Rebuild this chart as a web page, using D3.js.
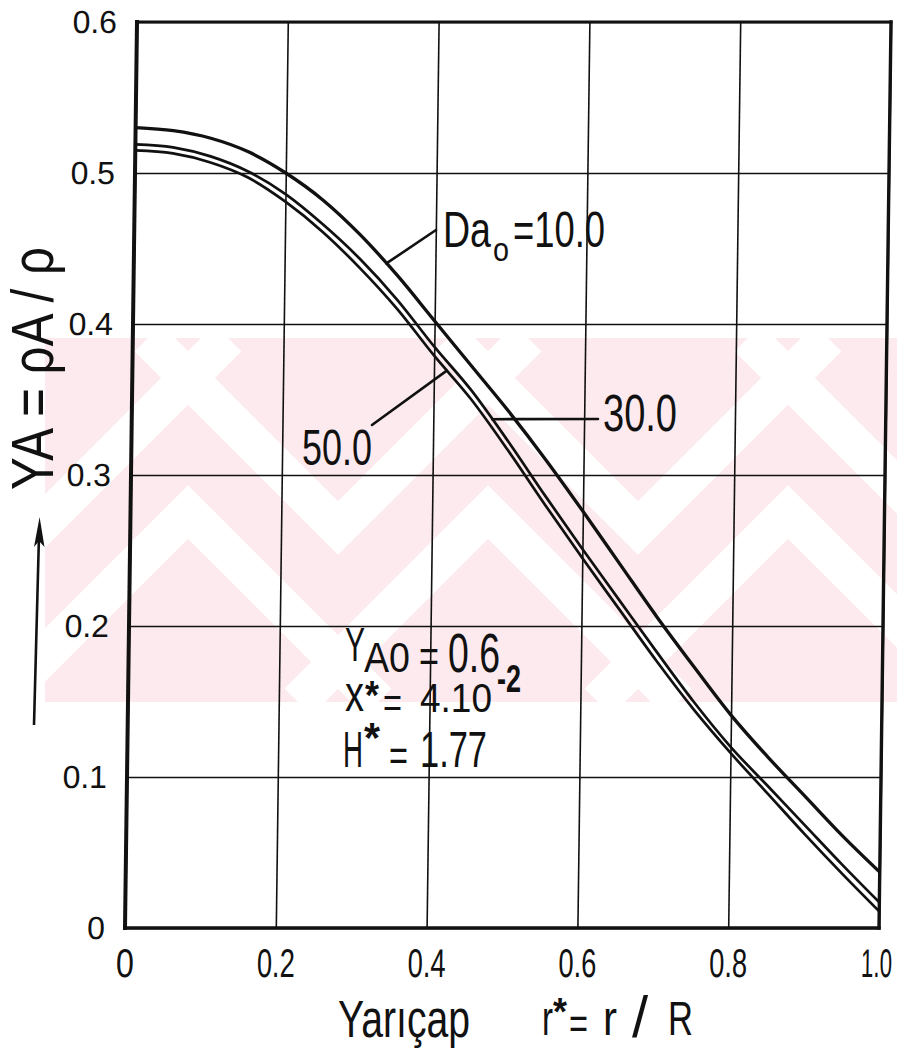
<!DOCTYPE html>
<html>
<head>
<meta charset="utf-8">
<script src="https://cdn.jsdelivr.net/npm/d3@7/dist/d3.min.js"></script>
<style>
  html, body { margin: 0; padding: 0; background: #fff; }
  svg { display: block; }
  text { font-family: "Liberation Sans Narrow", "Liberation Sans", Arial, sans-serif; fill: #111; }
</style>
</head>
<body>
<svg id="chart" width="897" height="1053" viewBox="0 0 897 1053"></svg>
<script>
// Dimensionless radius r* = r / R
const radius = [0.00, 0.05, 0.10, 0.15, 0.20, 0.25, 0.30, 0.35, 0.40, 0.45, 0.50,
                0.55, 0.60, 0.65, 0.70, 0.75, 0.80, 0.85, 0.90, 0.95, 1.00];

// Mass fraction Y_A = rho_A / rho for three Damköhler numbers Da_o
const yDa10 = [0.530, 0.528, 0.523, 0.514, 0.500, 0.482, 0.459, 0.432, 0.402, 0.372, 0.342,
               0.310, 0.276, 0.241, 0.206, 0.173, 0.141, 0.113, 0.087, 0.061, 0.037];
const yDa30 = [0.519, 0.517, 0.511, 0.501, 0.486, 0.466, 0.443, 0.416, 0.385, 0.356, 0.322,
               0.286, 0.251, 0.217, 0.183, 0.150, 0.120, 0.094, 0.068, 0.042, 0.017];
const yDa50 = [0.515, 0.513, 0.507, 0.497, 0.481, 0.461, 0.437, 0.410, 0.379, 0.350, 0.316,
               0.280, 0.245, 0.211, 0.177, 0.145, 0.116, 0.089, 0.062, 0.036, 0.011];
const seriesLabels = ["10.0", "30.0", "50.0"];

const xTicks = [0, 0.2, 0.4, 0.6, 0.8, 1.0];
const xTickLabels = ["0", "0.2", "0.4", "0.6", "0.8", "1.0"];
const yTicks = [0, 0.1, 0.2, 0.3, 0.4, 0.5, 0.6];
const yTickLabels = ["0", "0.1", "0.2", "0.3", "0.4", "0.5", "0.6"];

// ---- layout ----
const W = 754, H = 906, ox = 137, oy = 22;
const slant = -12 / 906;                           // the vertical rules lean slightly
const slantDeg = Math.atan(slant) * 180 / Math.PI;

const x = d3.scaleLinear().domain([0, 1]).range([0, W]);
const y = d3.scaleLinear().domain([0, 0.6]).range([H, 0]);
const toPx = (r, v) => [ox + x(r) + slant * y(v), oy + y(v)];

const valueAt = (vals, r) => {
  const i = Math.min(d3.bisectRight(radius, r), radius.length - 1);
  const r0 = radius[i - 1], r1 = radius[i];
  return vals[i - 1] + (vals[i] - vals[i - 1]) * (r - r0) / (r1 - r0);
};

const svg = d3.select("#chart");
svg.append("rect").attr("width", 897).attr("height", 1053).attr("fill", "#fff");

// ---- faint background emblem ----
const defs = svg.append("defs");
defs.append("clipPath").attr("id", "emblem-clip")
  .append("rect").attr("x", 45).attr("y", 338).attr("width", 852).attr("height", 364);
const emblem = svg.append("g").attr("clip-path", "url(#emblem-clip)");
emblem.append("rect").attr("x", 45).attr("y", 338).attr("width", 852).attr("height", 364)
  .attr("fill", "#fdeaee");
[38, 338, 638, 938].forEach(c => emblem.append("path")
  .attr("d", `M${c - 190},338L${c},528L${c + 190},338`)
  .attr("fill", "none").attr("stroke", "#fff").attr("stroke-width", 38));
[188, 488, 788].forEach(c => emblem.append("path")
  .attr("d", `M${c - 190},702L${c},512L${c + 190},702`)
  .attr("fill", "none").attr("stroke", "#fff").attr("stroke-width", 38));

// ---- plot frame, grid, axes ----
const plot = svg.append("g").attr("transform", `translate(${ox},${oy}) skewX(${slantDeg})`);

const gx = plot.append("g").attr("transform", `translate(0,${H})`)
  .call(d3.axisBottom(x).tickValues(xTicks).tickFormat((d, i) => xTickLabels[i])
        .tickSize(-H).tickPadding(21));
gx.select(".domain").remove();
gx.selectAll(".tick line").attr("stroke", "#111").attr("stroke-width", 1.6);
const last = xTicks.length - 1;
gx.selectAll(".tick text").style("font-size", "40px")
  .attr("textLength", (d, i) => i === 0 ? 18 : (i === last ? 31 : 38))
  .attr("lengthAdjust", "spacingAndGlyphs")
  .attr("text-anchor", (d, i) => i === last ? "end" : "middle")
  .attr("x", (d, i) => i === last ? 13 : 0);

const gy = plot.append("g")
  .call(d3.axisLeft(y).tickValues(yTicks).tickFormat((d, i) => yTickLabels[i])
        .tickSize(-W).tickPadding(20));
gy.select(".domain").remove();
gy.selectAll(".tick line").attr("stroke", "#111").attr("stroke-width", 1.6);
gy.selectAll(".tick text").style("font-size", "32px")
  .style("font-family", "'Liberation Sans', Arial, sans-serif");

const frame = [
  { x1: 0, y1: 0, x2: 0, y2: H, w: 4 },
  { x1: 0, y1: H, x2: W, y2: H, w: 3.4 },
  { x1: W, y1: 0, x2: W, y2: H, w: 3.4 },
  { x1: 0, y1: 0, x2: W, y2: 0, w: 2.8 }
];
plot.selectAll("line.frame").data(frame).join("line").attr("class", "frame")
  .attr("x1", d => d.x1).attr("y1", d => d.y1).attr("x2", d => d.x2).attr("y2", d => d.y2)
  .attr("stroke", "#111").attr("stroke-width", d => d.w).attr("stroke-linecap", "square");

// ---- profiles ----
const series = [
  { label: seriesLabels[0], values: yDa10, width: 3.3 },
  { label: seriesLabels[1], values: yDa30, width: 2.7 },
  { label: seriesLabels[2], values: yDa50, width: 2.7 }
];
const line = d3.line().x(d => x(d[0])).y(d => y(d[1])).curve(d3.curveMonotoneX);
plot.selectAll("path.profile").data(series).join("path").attr("class", "profile")
  .attr("d", s => line(radius.map((r, i) => [r, s.values[i]])))
  .attr("fill", "none").attr("stroke", "#111").attr("stroke-width", s => s.width)
  .attr("stroke-linejoin", "round");

// ---- annotations ----
const over = svg.append("g");
function label(str, px, py, size, len, anchor) {
  const t = over.append("text").attr("x", px).attr("y", py).style("font-size", size + "px").text(str);
  if (len) t.attr("textLength", len).attr("lengthAdjust", "spacingAndGlyphs");
  if (anchor) t.attr("text-anchor", anchor);
  return t;
}

const leaders = [
  { s: 0, at: 0.335, end: [436, 230] },
  { s: 1, at: 0.478, end: [598, 419] },
  { s: 2, at: 0.417, end: [372, 425] }
];
leaders.forEach(l => {
  const p = toPx(l.at, valueAt(series[l.s].values, l.at));
  over.append("line").attr("x1", p[0]).attr("y1", p[1]).attr("x2", l.end[0]).attr("y2", l.end[1])
    .attr("stroke", "#111").attr("stroke-width", 2.6).attr("stroke-linecap", "round");
});

// Da_o = 10.0
label("Da", 443, 247, 50, 48);
label("o", 493, 261, 34, 16);
label("=" + seriesLabels[0], 513, 247, 50, 92);
// 30.0 and 50.0
label(seriesLabels[1], 603, 431, 52, 74);
label(seriesLabels[2], 302, 465, 50, 70);

// operating parameters
label("Y", 345, 661, 48, 20);
label("A0", 364, 672, 42, 46);
label("=", 419, 672, 46, 20);
label("0.6", 448, 672, 56, 52);

label("x", 345, 711, 50, 19);
label("*", 365, 709, 40, 14).attr("font-weight", "bold");
label("=", 383, 717, 42, 19);
label("4.10", 420, 712, 40, 72);
label("-2", 497, 692, 38, 24).attr("font-weight", "bold");

label("H", 343, 767, 50, 20);
label("*", 364, 752, 42, 16).attr("font-weight", "bold");
label("=", 389, 771, 44, 19);
label("1.77", 420, 767, 50, 67);

// axis titles
label("Yarıçap", 338, 1037, 51, 132);
label("r", 542, 1035, 48, 11);
label("*", 553, 1025, 38, 14).attr("font-weight", "bold");
label("=", 569, 1039, 44, 19);
label("r", 603, 1035, 48, 14);
label("/", 632, 1037, 58);
label("R", 668, 1035, 48, 25);

over.append("text").attr("transform", "translate(53,490) rotate(-90)")
  .style("font-size", "60px").attr("textLength", 243).attr("lengthAdjust", "spacingAndGlyphs")
  .text("YA = ρA / ρ");

// upward arrow beside the vertical title
over.append("line").attr("x1", 34).attr("y1", 725).attr("x2", 39).attr("y2", 535)
  .attr("stroke", "#111").attr("stroke-width", 2.6);
over.append("path").attr("d", "M39.6,517L34,547L39,541L44.5,547Z").attr("fill", "#111");
</script>
</body>
</html>
